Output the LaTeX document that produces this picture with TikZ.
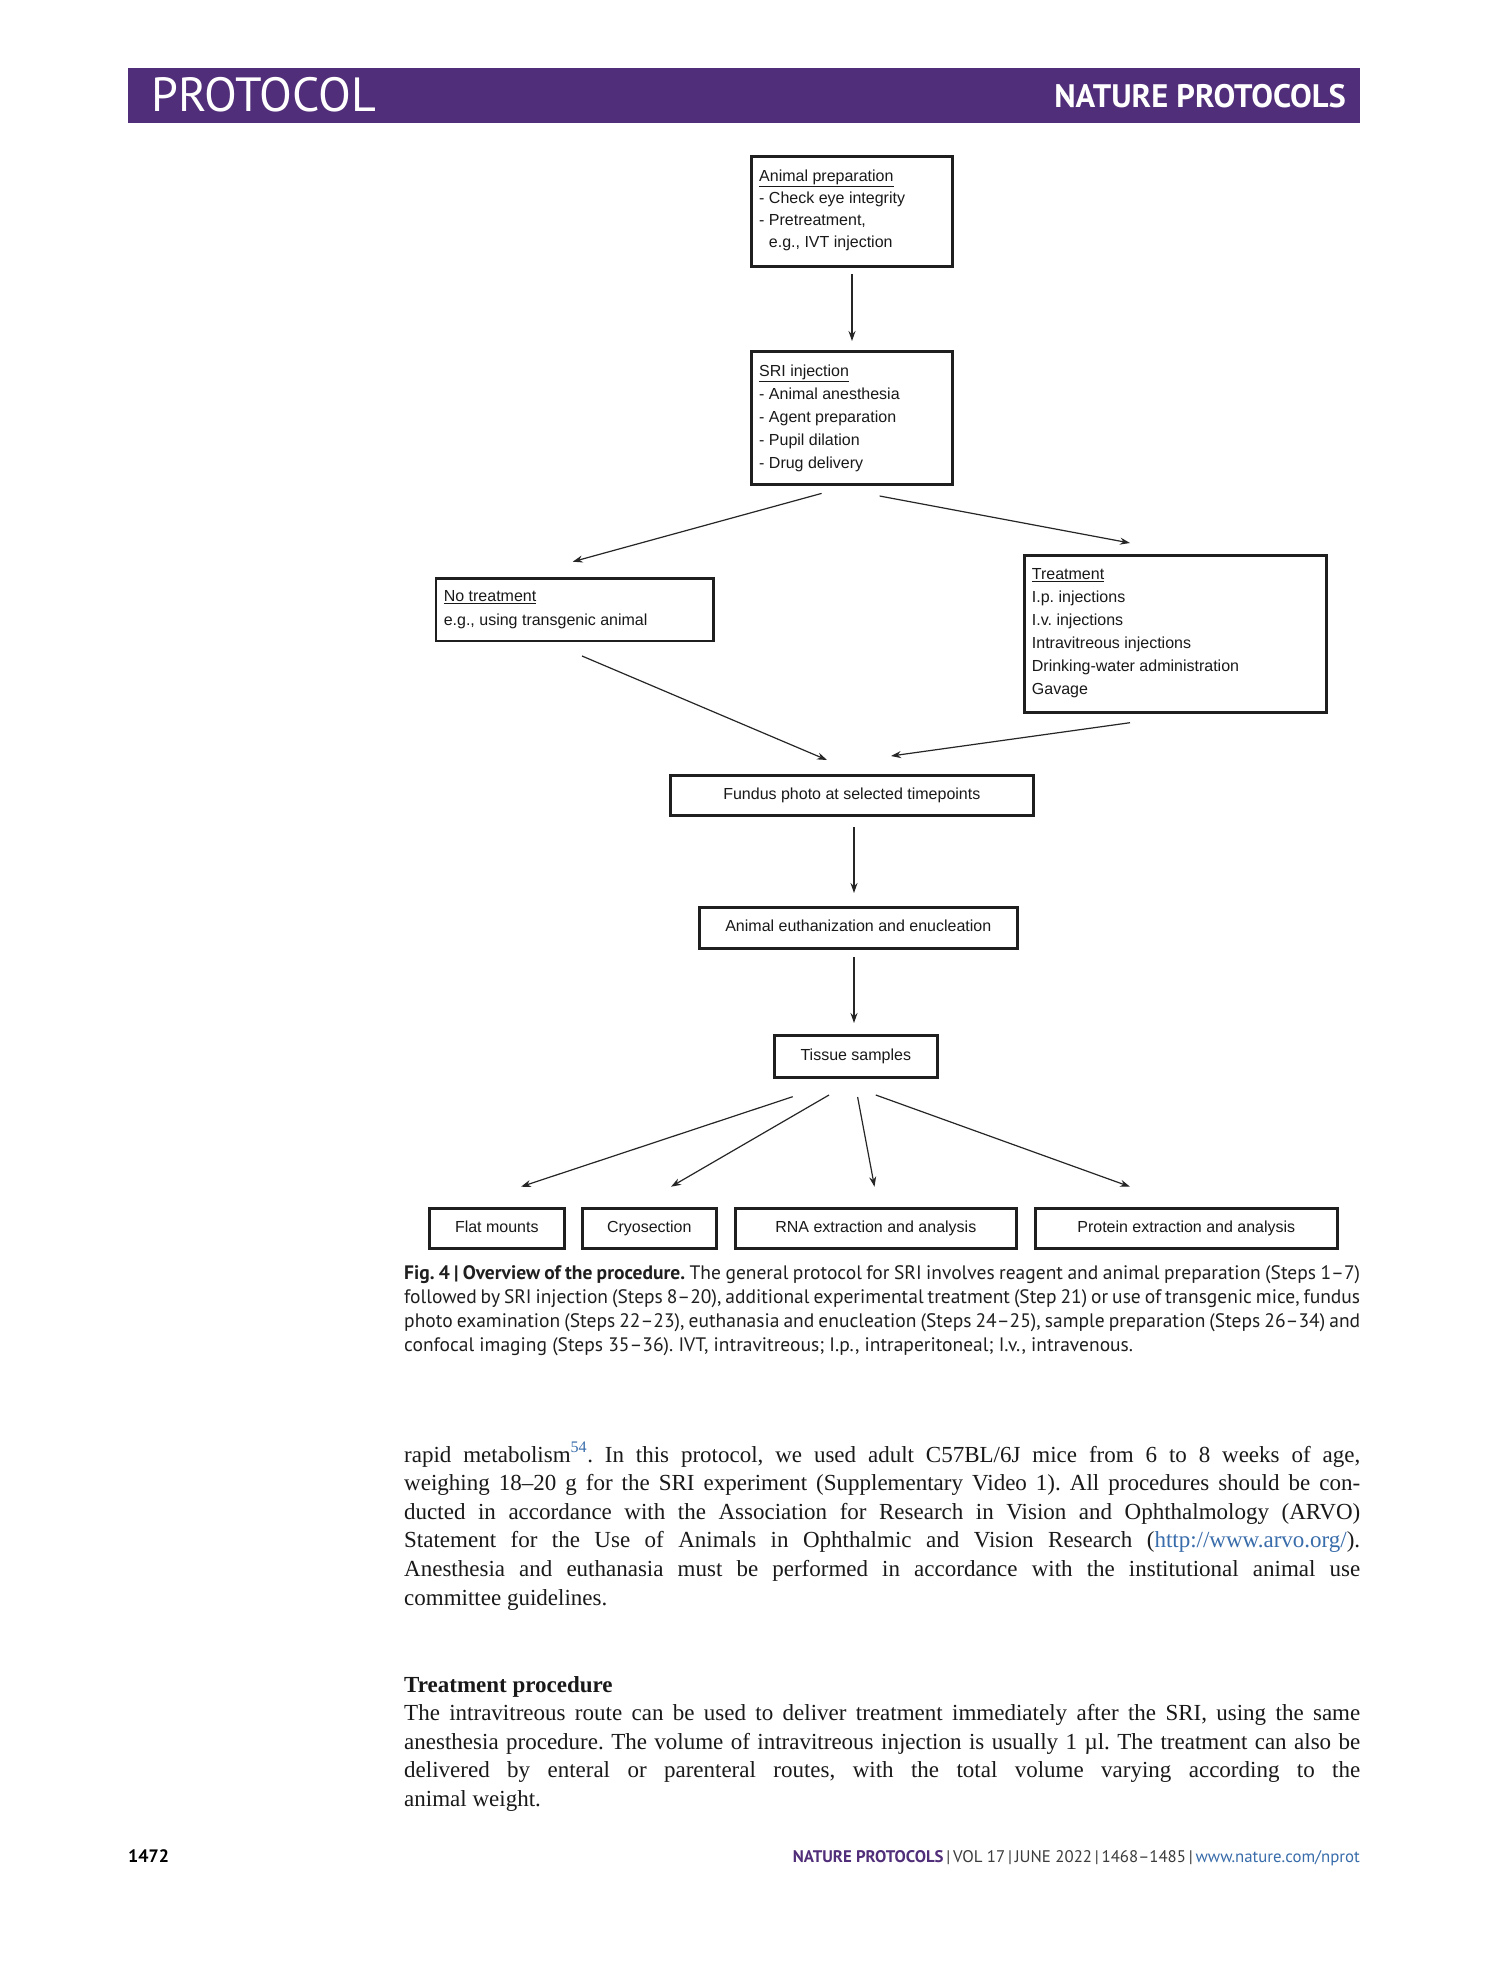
\documentclass[tikz,border=0pt]{standalone}
\usepackage{fontspec}
\setmainfont{Liberation Serif}
\newfontfamily\boxfont{Liberation Sans}
\newfontfamily\capfont{PT Sans}
\usetikzlibrary{arrows.meta}
\definecolor{npurple}{RGB}{81,46,121}
\definecolor{nblue}{RGB}{56,108,170}
\definecolor{ngray}{RGB}{60,60,60}
\frenchspacing
\begin{document}
\begin{tikzpicture}[x=1pt,y=-1pt,
  box/.style={draw=black!88,line width=2.6pt,inner sep=0pt,anchor=north west,
    font=\boxfont\fontsize{16}{22}\selectfont,text=black!90,text height=11.6pt,text depth=3.4pt},
  boxtext/.style={font=\boxfont\fontsize{16}{22}\selectfont,text=black!90,inner sep=0pt,
    align=left,anchor=base west},
  arr/.style={draw=black!85,line width=1.2pt,-{Stealth[length=10pt,width=7pt]}},
  capline/.style={font=\capfont\fontsize{19.5}{24}\selectfont,text=black!88,inner sep=0pt,anchor=base west},
  bodyline/.style={font=\fontsize{23}{28}\selectfont,text=black!90,inner sep=0pt,anchor=base west}]
\useasboundingbox[fill=white] (0,0) rectangle (1489,1978);

% header
\fill[npurple] (128,68) rectangle (1360,122.5);
\node[font=\capfont\fontsize{48}{48}\selectfont,text=white,inner sep=0pt,anchor=base west] (hleft) at (151,111) {PROTOCOL};
\node[font=\capfont\bfseries\fontsize{32.5}{32.5}\selectfont,text=white,inner sep=0pt,anchor=base east] (hright) at (1346,107) {NATURE PROTOCOLS};

% boxes (multi-line texts are placed by the baseline of their last line)
\node[box,minimum width=201pt,minimum height=110pt] (animal) at (750,155) {};
\node[boxtext] (animalT) at (759,247.7) {\underline{Animal preparation}\\- Check eye integrity\\- Pretreatment,\\\phantom{- }e.g., IVT injection};

\node[box,minimum width=201pt,minimum height=133pt] (sri) at (750,350) {};
\node[boxtext,font=\boxfont\fontsize{16}{23}\selectfont] (sriT) at (759,468) {\underline{SRI injection}\\- Animal anesthesia\\- Agent preparation\\- Pupil dilation\\- Drug delivery};

\node[box,minimum width=277.5pt,minimum height=62.5pt] (notreat) at (434.5,577) {};
\node[boxtext,font=\boxfont\fontsize{16}{23.3}\selectfont] (notreatT) at (443.6,625) {\underline{No treatment}\\e.g., using transgenic animal};

\node[box,minimum width=302pt,minimum height=157pt] (treat) at (1023,554) {};
\node[boxtext,font=\boxfont\fontsize{16}{23}\selectfont] (treatT) at (1031.7,694.3) {\underline{Treatment}\\I.p. injections\\I.v. injections\\Intravitreous injections\\Drinking-water administration\\Gavage};

\node[box,minimum width=363pt,minimum height=40pt] (fundus) at (669,774) {Fundus photo at selected timepoints};
\node[box,minimum width=318pt,minimum height=41pt] (euth) at (698,906) {Animal euthanization and enucleation};
\node[box,minimum width=163pt,minimum height=42pt] (tissue) at (773,1034) {Tissue samples};
\node[box,minimum width=135pt,minimum height=40pt] (flat) at (428,1207) {Flat mounts};
\node[box,minimum width=134pt,minimum height=40pt] (cryo) at (581,1207) {Cryosection};
\node[box,minimum width=281pt,minimum height=40pt] (rna) at (734,1207) {RNA extraction and analysis};
\node[box,minimum width=302pt,minimum height=40pt] (protein) at (1034,1207) {Protein extraction and analysis};

% connector end points
\coordinate (a1s) at (852,274);   \coordinate (a1e) at (852,341);
\coordinate (a2s) at (821.6,493.4); \coordinate (a2e) at (572.7,561.7);
\coordinate (a3s) at (879.6,496); \coordinate (a3e) at (1130,543);
\coordinate (a4s) at (582,656);   \coordinate (a4e) at (827,760);
\coordinate (a5s) at (1130,722.7); \coordinate (a5e) at (891,756);
\coordinate (a6s) at (854,827);   \coordinate (a6e) at (854,893);
\coordinate (a7s) at (854,957);   \coordinate (a7e) at (854,1023);
\coordinate (a8s) at (792.7,1096.7); \coordinate (a8e) at (521,1186.7);
\coordinate (a9s) at (829,1095);  \coordinate (a9e) at (671,1186.7);
\coordinate (a10s) at (857.6,1097); \coordinate (a10e) at (874.5,1186.7);
\coordinate (a11s) at (875.8,1095); \coordinate (a11e) at (1130,1186.7);

\draw[arr] (a1s) -- (a1e);
\draw[arr] (a2s) -- (a2e);
\draw[arr] (a3s) -- (a3e);
\draw[arr] (a4s) -- (a4e);
\draw[arr] (a5s) -- (a5e);
\draw[arr] (a6s) -- (a6e);
\draw[arr] (a7s) -- (a7e);
\draw[arr] (a8s) -- (a8e);
\draw[arr] (a9s) -- (a9e);
\draw[arr] (a10s) -- (a10e);
\draw[arr] (a11s) -- (a11e);

% caption
\node[capline] (cap1) at (404,1279.5) {\makebox[956pt][s]{\textbf{Fig.~4~|~Overview of the procedure.} The general protocol for SRI involves reagent and animal preparation (Steps 1–7)}};
\node[capline] (cap2) at (404,1303.5) {\makebox[956pt][s]{followed by SRI injection (Steps 8–20), additional experimental treatment (Step 21) or use of transgenic mice, fundus}};
\node[capline] (cap3) at (404,1327.5) {\makebox[956pt][s]{photo examination (Steps 22–23), euthanasia and enucleation (Steps 24–25), sample preparation (Steps 26–34) and}};
\node[capline] (cap4) at (404,1351.5) {confocal imaging (Steps 35–36). IVT, intravitreous; I.p., intraperitoneal; I.v., intravenous.};

% body text
\node[bodyline] (b1) at (404,1462) {\makebox[956pt][s]{rapid metabolism\textsuperscript{\color{nblue}54}. In this protocol, we used adult C57BL/6J mice from 6 to 8 weeks of age,}};
\node[bodyline] (b2) at (404,1490.6) {\makebox[956pt][s]{weighing 18–20 g for the SRI experiment (Supplementary Video 1). All procedures should be con-}};
\node[bodyline] (b3) at (404,1519.2) {\makebox[956pt][s]{ducted in accordance with the Association for Research in Vision and Ophthalmology (ARVO)}};
\node[bodyline] (b4) at (404,1547.8) {\makebox[956pt][s]{Statement for the Use of Animals in Ophthalmic and Vision Research ({\color{nblue}http://www.arvo.org/}).}};
\node[bodyline] (b5) at (404,1576.4) {\makebox[956pt][s]{Anesthesia and euthanasia must be performed in accordance with the institutional animal use}};
\node[bodyline] (b6) at (404,1605) {committee guidelines.};

\node[bodyline,font=\bfseries\fontsize{23}{28}\selectfont] (th) at (404,1692) {Treatment procedure};
\node[bodyline] (t1) at (404,1720.6) {\makebox[956pt][s]{The intravitreous route can be used to deliver treatment immediately after the SRI, using the same}};
\node[bodyline] (t2) at (404,1749.2) {\makebox[956pt][s]{anesthesia procedure. The volume of intravitreous injection is usually 1 µl. The treatment can also be}};
\node[bodyline] (t3) at (404,1777.8) {\makebox[956pt][s]{delivered by enteral or parenteral routes, with the total volume varying according to the}};
\node[bodyline] (t4) at (404,1806.4) {animal weight.};

% footer
\node[font=\capfont\bfseries\fontsize{18}{18}\selectfont,text=black,inner sep=0pt,anchor=base west] (fpage) at (128,1862) {1472};
\node[font=\capfont\fontsize{16.8}{16.8}\selectfont,text=ngray,inner sep=0pt,anchor=base east] (fright) at (1360,1862) {{\color{npurple}\bfseries NATURE PROTOCOLS}\,|\,VOL 17\,|\,JUNE 2022\,|\,1468–1485\,|\,{\color{nblue}www.nature.com/nprot}};
\end{tikzpicture}
\end{document}
